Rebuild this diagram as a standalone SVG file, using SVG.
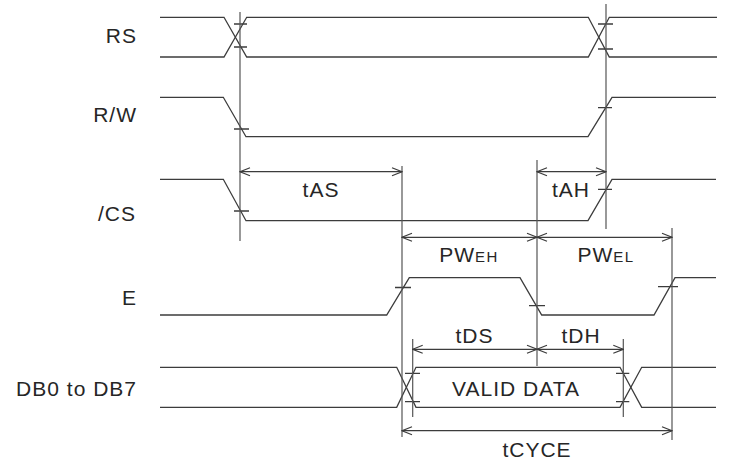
<svg xmlns="http://www.w3.org/2000/svg" width="736" height="466" viewBox="0 0 736 466">
<style>
.w{fill:none;stroke:#3c3c3c;stroke-width:1.3}
.g{fill:none;stroke:#555;stroke-width:1.2}
.d{fill:none;stroke:#3c3c3c;stroke-width:1.2;marker-start:url(#ah);marker-end:url(#ah)}
text{font-family:"Liberation Sans",Arial,sans-serif;font-size:21px;fill:#262626;letter-spacing:1px}
.l{text-anchor:end}
.c{text-anchor:middle}
.s{font-size:15px;letter-spacing:1.5px}
</style>
<defs>
<marker id="ah" viewBox="-11 -5 12 10" refX="0" refY="0" markerWidth="12" markerHeight="10" markerUnits="userSpaceOnUse" orient="auto-start-reverse">
<path d="M-10,-4 L0,0 L-10,4" fill="none" stroke="#3c3c3c" stroke-width="1.2"/>
</marker>
</defs>
<rect width="736" height="466" fill="#fff"/>

<g id="RS">
<text class="l" x="137" y="42.7">RS</text>
<path class="w" d="M160,17.3 H224 L246.7,57 H588.3 L609.3,17.3 H717"/>
<path class="w" d="M160,57 H224 L246.7,17.3 H588.3 L609.3,57 H717"/>
<path class="w" d="M234,24 H247 M234,47 H247 M598,24 H613 M598,49 H613"/>
</g>

<g id="RW">
<text class="l" x="137" y="122">R/W</text>
<path class="w" d="M160,97.3 H223.3 L246,136.7 H588 L612,97.3 H716"/>
<path class="w" d="M234,129 H249 M598,107.7 H612"/>
</g>

<g id="CS">
<text class="l" x="136" y="220.7">/CS</text>
<path class="w" d="M160,179.3 H223.3 L246,220.7 H588 L612,179.3 H716"/>
<path class="w" d="M234,211 H249 M598,189.3 H612"/>
</g>

<g id="E">
<text class="l" x="137" y="305">E</text>
<path class="w" d="M160,315 H386.7 L409.3,277.7 H520 L541.7,315 H654 L675,277.7 H716"/>
<path class="w" d="M395,287.5 H411 M529,305.7 H545 M658,286.7 H678"/>
</g>

<g id="DB">
<text class="l" x="137" y="396">DB0 to DB7</text>
<path class="w" d="M160,367.3 H396.7 L416,407.3 H620 L641.7,367.3 H716"/>
<path class="w" d="M160,407.3 H396.7 L416,367.3 H620 L641.7,407.3 H716"/>
<path class="w" d="M405,373.3 H420 M405,401.7 H420 M616,373.3 H629.3 M616,401.7 H629.3"/>
<text class="c" x="516" y="395.7">VALID DATA</text>
</g>

<g id="connectors">
<path class="g" d="M240,12 V241 M606,4 V229 M402,166 V437 M537,160 V366 M672,228 V440 M412.7,339 V417 M623.3,339 V417"/>
<line class="d" x1="240" y1="171.7" x2="402" y2="171.7"/>
<line class="d" x1="537" y1="171.7" x2="606" y2="171.7"/>
<line class="d" x1="402" y1="237.3" x2="537" y2="237.3"/>
<line class="d" x1="537" y1="237.3" x2="672" y2="237.3"/>
<line class="d" x1="412.7" y1="349.3" x2="537" y2="349.3"/>
<line class="d" x1="537" y1="349.3" x2="623.3" y2="349.3"/>
<line class="d" x1="402" y1="430.7" x2="672" y2="430.7"/>
<text class="c" x="321" y="196.7">tAS</text>
<text class="c" x="571" y="196.7">tAH</text>
<text class="c" x="469" y="262.3">PW<tspan class="s">EH</tspan></text>
<text class="c" x="606" y="262.3">PW<tspan class="s">EL</tspan></text>
<text class="c" x="474.5" y="342.7">tDS</text>
<text class="c" x="581" y="342.7">tDH</text>
<text class="c" x="537" y="456.7">tCYCE</text>
</g>
</svg>
